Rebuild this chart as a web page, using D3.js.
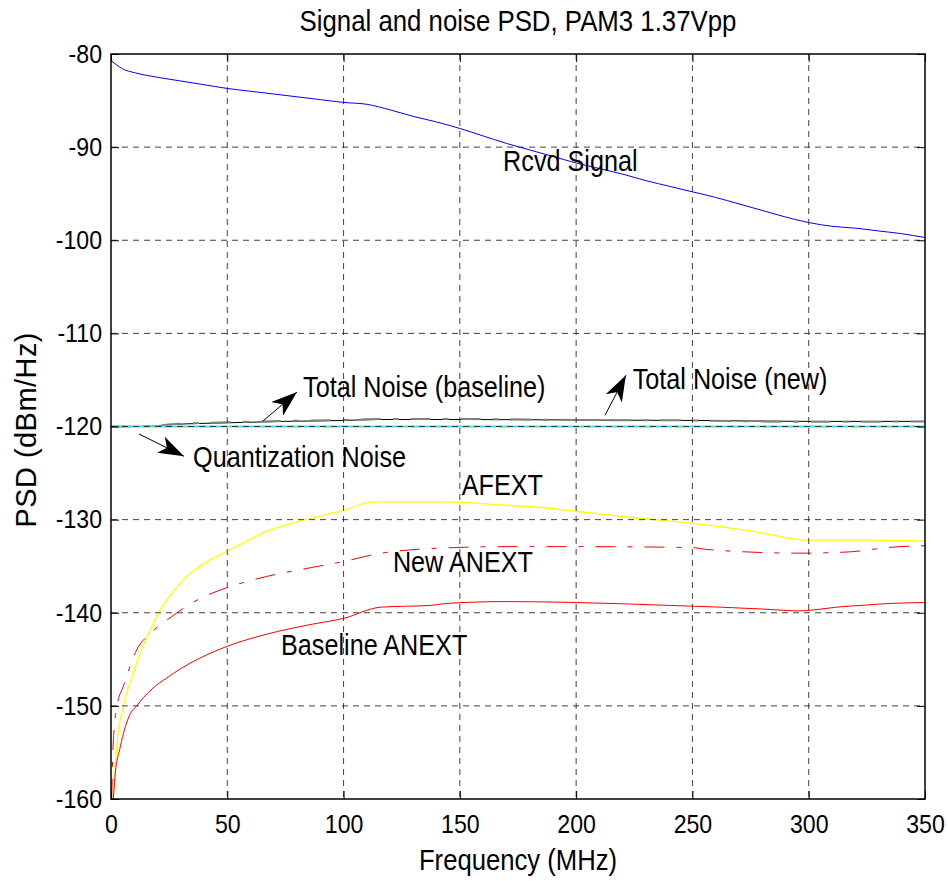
<!DOCTYPE html>
<html>
<head>
<meta charset="utf-8">
<script src="https://cdn.jsdelivr.net/npm/d3@7"></script>
<style>
  body { margin: 0; background: #fff; }
  text { font-family: "Liberation Sans", Arial, sans-serif; fill: #000; }
</style>
</head>
<body>
<div id="chart"></div>
<script>
// valores (MHz, dBm/Hz)
const freqSignal = [0, 2, 5, 10, 20, 30, 40, 50, 60, 70, 80, 90, 100, 110, 120, 130, 140, 150, 160, 170, 180, 190, 200, 210, 220, 230, 240, 250, 260, 270, 280, 290, 300, 310, 320, 330, 340, 350];
const rcvdSignal = [-80.7, -81.1, -81.6, -82.0, -82.5, -82.9, -83.3, -83.7, -84.0, -84.3, -84.6, -84.9, -85.2, -85.4, -86.0, -86.7, -87.3, -88.0, -88.8, -89.6, -90.3, -91.0, -91.7, -92.3, -92.9, -93.6, -94.2, -94.8, -95.4, -96.1, -96.8, -97.5, -98.1, -98.5, -98.7, -99.0, -99.3, -99.7];

const freqNoise = [0, 10, 20, 26, 50, 75, 100, 115, 150, 200, 250, 300, 350];
const totalBaseline = [-120, -120, -119.95, -119.8, -119.6, -119.45, -119.35, -119.25, -119.25, -119.3, -119.35, -119.45, -119.45];
const totalNew = [-120, -120, -119.9, -119.75, -119.55, -119.4, -119.3, -119.2, -119.2, -119.3, -119.35, -119.5, -119.45];

const freqQuant = [0, 350];
const quantNoise = [-120, -120];

const freqAfext = [1, 2, 3, 5, 7.5, 10, 13, 17, 20, 25, 31, 40, 50, 60, 67, 75, 85, 100, 113, 125, 143, 167, 185, 200, 225, 250, 275, 300, 325, 350];
const afext = [-160, -156, -153, -150.4, -148, -146.2, -144, -141.8, -140.2, -138.3, -136.5, -134.7, -133.4, -132.1, -131.2, -130.6, -129.9, -129.0, -128.1, -128.1, -128.1, -128.4, -128.7, -129.1, -129.8, -130.4, -131.2, -132.2, -132.2, -132.3];

const freqNewAnext = [0.3, 0.8, 1.5, 2.5, 5.3, 11, 17, 24, 38, 50, 67, 85, 100, 114, 138, 170, 200, 250, 256, 296, 315, 339, 350];
const newAnext = [-160, -155, -152, -150.1, -147.9, -144.0, -142.2, -140.8, -138.5, -137.3, -136.1, -135.2, -134.5, -133.7, -133.1, -132.9, -132.9, -133.0, -133.2, -133.6, -133.5, -132.9, -132.8];

const freqBaseAnext = [1, 1.7, 4, 8, 11, 14, 18, 24, 30, 38, 50, 67, 85, 100, 116, 138, 144, 170, 200, 239, 262, 280, 296, 302, 312, 323, 335, 350];
const baseAnext = [-160, -157.6, -154.4, -151.0, -150.0, -149.1, -148.1, -147.0, -146.0, -144.9, -143.6, -142.3, -141.3, -140.6, -139.4, -139.2, -139.0, -138.8, -138.9, -139.2, -139.4, -139.6, -139.8, -139.7, -139.4, -139.2, -139.0, -138.9];

const xTicks = [0, 50, 100, 150, 200, 250, 300, 350];
const yTicks = [-80, -90, -100, -110, -120, -130, -140, -150, -160];

// textos y flechas en coordenadas de datos
const labels = [
  { text: "Rcvd Signal", f: 168.6, v: -92.56 },
  { text: "Total Noise (baseline)", f: 82.6, v: -116.8 },
  { text: "Total Noise (new)", f: 224.3, v: -115.97 },
  { text: "Quantization Noise", f: 35.3, v: -124.3 },
  { text: "AFEXT", f: 150.8, v: -127.36 },
  { text: "New ANEXT", f: 121.2, v: -135.6 },
  { text: "Baseline ANEXT", f: 73.1, v: -144.5 }
];
const arrows = [
  { f0: 12.0, v0: -120.8, f1: 31.4, v1: -123.2 },
  { f0: 65.4, v0: -119.4, f1: 80.0, v1: -116.3 },
  { f0: 212.4, v0: -118.8, f1: 221.4, v1: -114.5 }
];

const W = 948, H = 881;
const margin = { top: 54, right: 23, bottom: 82, left: 111 };
const width = W - margin.left - margin.right;
const height = H - margin.top - margin.bottom;

// la fuente original es mas estrecha que Liberation Sans
function condense(sel, k) {
  sel.each(function() {
    const L = this.getComputedTextLength();
    d3.select(this).attr("textLength", L * k).attr("lengthAdjust", "spacingAndGlyphs");
  });
}

const svg = d3.select("#chart").append("svg")
    .attr("width", W)
    .attr("height", H);

const defs = svg.append("defs");
defs.append("clipPath").attr("id", "plot")
  .append("rect").attr("width", width).attr("height", height);

const g = svg.append("g")
    .attr("transform", `translate(${margin.left},${margin.top})`);

const x = d3.scaleLinear().domain([0, 350]).range([0, width]);
const y = d3.scaleLinear().domain([-160, -80]).range([height, 0]);

const line = d3.line().x(d => x(d[0])).y(d => y(d[1])).curve(d3.curveMonotoneX);
const zip = (fs, vs) => fs.map((f, i) => [f, vs[i]]);

const plot = g.append("g").attr("clip-path", "url(#plot)");

const series = [
  { data: zip(freqSignal, rcvdSignal), color: "#0000ff", w: 1, dash: null },
  { data: zip(freqNoise, totalBaseline), color: "#000", w: 1, dash: null },
  { data: zip(freqNoise, totalNew), color: "#808080", w: 2, dash: "20,12,6,12" },
  { data: zip(freqQuant, quantNoise), color: "#33e6e6", w: 2, dash: null },
  { data: zip(freqAfext, afext), color: "#ffff00", w: 1.3, dash: null },
  { data: zip(freqNewAnext, newAnext), color: "#ff0000", w: 1, dash: "20,12,5,12" },
  { data: zip(freqBaseAnext, baseAnext), color: "#ff0000", w: 1, dash: null }
];

plot.selectAll("path.serie")
  .data(series)
  .enter()
  .append("path")
    .attr("class", "serie")
    .attr("fill", "none")
    .attr("stroke", d => d.color)
    .attr("stroke-width", d => d.w)
    .attr("stroke-dasharray", d => d.dash)
    .attr("d", d => line(d.data));

// rejilla encima de las lineas, como en matlab
g.append("g")
    .selectAll("line")
    .data(yTicks.slice(1, -1))
    .enter()
    .append("line")
    .attr("x1", 0).attr("x2", width)
    .attr("y1", d => y(d)).attr("y2", d => y(d))
    .attr("stroke", "#222").attr("stroke-width", 1)
    .attr("stroke-dasharray", "6,5").attr("opacity", 0.85);

g.append("g")
    .selectAll("line")
    .data(xTicks.slice(1, -1))
    .enter()
    .append("line")
    .attr("x1", d => x(d)).attr("x2", d => x(d))
    .attr("y1", 0).attr("y2", height)
    .attr("stroke", "#222").attr("stroke-width", 1)
    .attr("stroke-dasharray", "6,5").attr("opacity", 0.85);

// ejes
const xAxis = g.append("g")
    .attr("transform", `translate(0,${height})`)
    .call(d3.axisBottom(x).tickValues(xTicks).tickSize(-8).tickPadding(16).tickFormat(d => String(d)));
const yAxis = g.append("g")
    .call(d3.axisLeft(y).tickValues(yTicks).tickSize(-8).tickPadding(9).tickFormat(d => String(d)));
g.append("g")
    .call(d3.axisTop(x).tickValues(xTicks).tickSize(-8).tickFormat(""));
g.append("g")
    .attr("transform", `translate(${width},0)`)
    .call(d3.axisRight(y).tickValues(yTicks).tickSize(-8).tickFormat(""));

g.selectAll(".domain").remove();
g.selectAll(".tick line").attr("stroke", "#000").attr("stroke-width", 1);
[xAxis, yAxis].forEach(a => {
  const t = a.selectAll("text")
    .attr("font-size", "26px")
    .attr("font-family", null)
    .style("fill", "#000");
  condense(t, 0.89);
});

g.append("rect")
    .attr("width", width).attr("height", height)
    .attr("fill", "none").attr("stroke", "#000").attr("stroke-width", 1.5);

// flechas
defs.append("marker")
    .attr("id", "head")
    .attr("viewBox", "0 0 26 18")
    .attr("refX", 26).attr("refY", 9)
    .attr("markerWidth", 26).attr("markerHeight", 18)
    .attr("markerUnits", "userSpaceOnUse")
    .attr("orient", "auto")
  .append("path")
    .attr("d", "M0,0 L26,9 L0,18 L7,9 Z")
    .attr("fill", "#000");

g.selectAll("line.arrow")
  .data(arrows)
  .enter()
  .append("line")
    .attr("class", "arrow")
    .attr("x1", d => x(d.f0)).attr("y1", d => y(d.v0))
    .attr("x2", d => x(d.f1)).attr("y2", d => y(d.v1))
    .attr("stroke", "#000").attr("stroke-width", 1)
    .attr("marker-end", "url(#head)");

const lbl = g.selectAll("text.lbl")
  .data(labels)
  .enter()
  .append("text")
    .attr("class", "lbl")
    .attr("x", d => x(d.f))
    .attr("y", d => y(d.v))
    .attr("font-size", "30px")
    .text(d => d.text);
condense(lbl, 0.84);

// titulos
const title = svg.append("text")
    .attr("x", margin.left + width / 2).attr("y", 31)
    .attr("text-anchor", "middle")
    .attr("font-size", "30px")
    .text("Signal and noise PSD, PAM3 1.37Vpp");
condense(title, 0.86);

const xlab = svg.append("text")
    .attr("x", margin.left + width / 2).attr("y", 870)
    .attr("text-anchor", "middle")
    .attr("font-size", "30px")
    .text("Frequency (MHz)");
condense(xlab, 0.855);

svg.append("text")
    .attr("transform", "translate(36,430) rotate(-90)")
    .attr("text-anchor", "middle")
    .attr("font-size", "29px")
    .attr("textLength", 195)
    .attr("lengthAdjust", "spacing")
    .text("PSD (dBm/Hz)");
</script>
</body>
</html>
